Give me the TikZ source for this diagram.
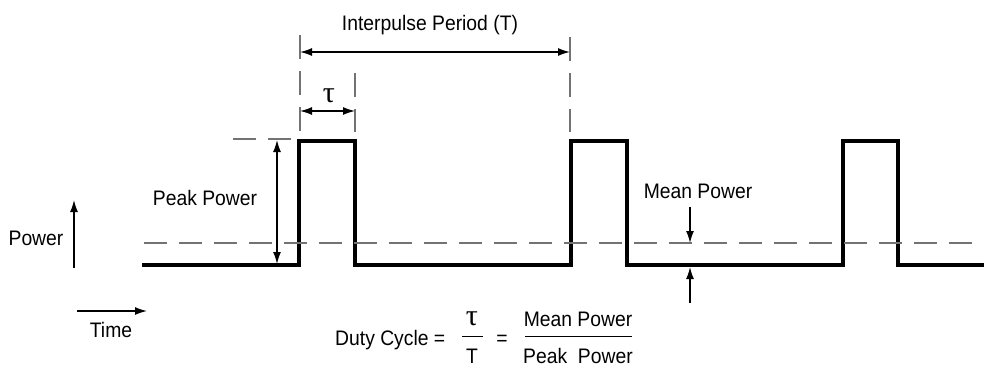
\documentclass[tikz,border=0pt]{standalone}
\usepackage{fontspec}
\setmainfont[FakeStretch=0.92]{Liberation Sans}
\newfontfamily\grk{Liberation Serif}
\usetikzlibrary{arrows.meta}
\begin{document}
\begin{tikzpicture}[x=1pt,y=-1pt,
  wave/.style={line width=3.6pt, line join=miter, line cap=butt},
  tip/.style={Latex[length=12pt,width=8pt]},
  dim/.style={line width=1.4pt, {Latex[length=12pt,width=8pt]}-{Latex[length=12pt,width=8pt]}},
  arr/.style={line width=1.4pt, -{Latex[length=12pt,width=8pt]}},
  guide/.style={line width=1.3pt, draw=black!55, dash pattern=on 23pt off 12pt},
  lbl/.style={font=\fontsize{21}{24}\selectfont, inner sep=0pt, anchor=base},
  tau/.style={font=\grk\fontsize{30}{32}\selectfont, inner sep=0pt, anchor=base},
  fbar/.style={line width=1pt}]
\useasboundingbox (0,0) rectangle (984,367);

% waveform
\draw[wave] (142,265) -- (299,265) -- (299,141) -- (355,141) -- (355,265)
  -- (571,265) -- (571,141) -- (627,141) -- (627,265) -- (843,265)
  -- (843,141) -- (898,141) -- (898,265) -- (984,265);

% mean power dashed line
\draw[guide] (144,243) -- (984,243);
% peak tick
\draw[guide] (233,139) -- (292,139);
% vertical guides
\draw[guide, dash pattern=on 24pt off 12pt] (300,35) -- (300,132);
\draw[guide, dash pattern=on 24pt off 12pt] (355,73) -- (355,132);
\draw[guide, dash pattern=on 24pt off 12pt] (570,37) -- (570,132);

% coordinates
\coordinate (ipL) at (300,52);
\coordinate (ipR) at (570,52);
\coordinate (tL) at (300,111);
\coordinate (tR) at (355,111);
\coordinate (pkT) at (277,140);
\coordinate (pkB) at (277,264);
\coordinate (pwB) at (74,268);
\coordinate (pwT) at (74,200);
\coordinate (tmL) at (77,311);
\coordinate (tmR) at (147,311);
\coordinate (mdS) at (690,207);
\coordinate (mdE) at (690,243);
\coordinate (muS) at (690,303);
\coordinate (muE) at (690,267);

\draw[dim] (ipL) -- (ipR);
\draw[dim] (tL) -- (tR);
\draw[dim] (pkT) -- (pkB);
\draw[arr] (pwB) -- (pwT);
\draw[arr] (tmL) -- (tmR);
\draw[arr] (mdS) -- (mdE);
\draw[arr] (muS) -- (muE);

% labels
\node[lbl] (ip) at (430,30) {Interpulse Period (T)};
\node[tau] (tl) at (329,102) {τ};
\node[lbl] (pp) at (205,205) {Peak Power};
\node[lbl] (pw) at (36,245) {Power};
\node[lbl] (tm) at (111,337) {Time};
\node[lbl] (mp) at (698,198) {Mean Power};

% duty cycle formula
\node[lbl, anchor=base west] (dc) at (335,345) {Duty Cycle =};
\node[tau] (ft) at (472,325) {τ};
\node[lbl] (fT) at (472,363) {T};
\draw[fbar] (462,336) -- (483,336);
\node[lbl] (eq) at (502,345) {=};
\node[lbl] (fm) at (578,326) {Mean Power};
\node[lbl] (fp) at (578,363) {Peak\ \ Power};
\draw[fbar] (525,336) -- (632,336);
\end{tikzpicture}
\end{document}
